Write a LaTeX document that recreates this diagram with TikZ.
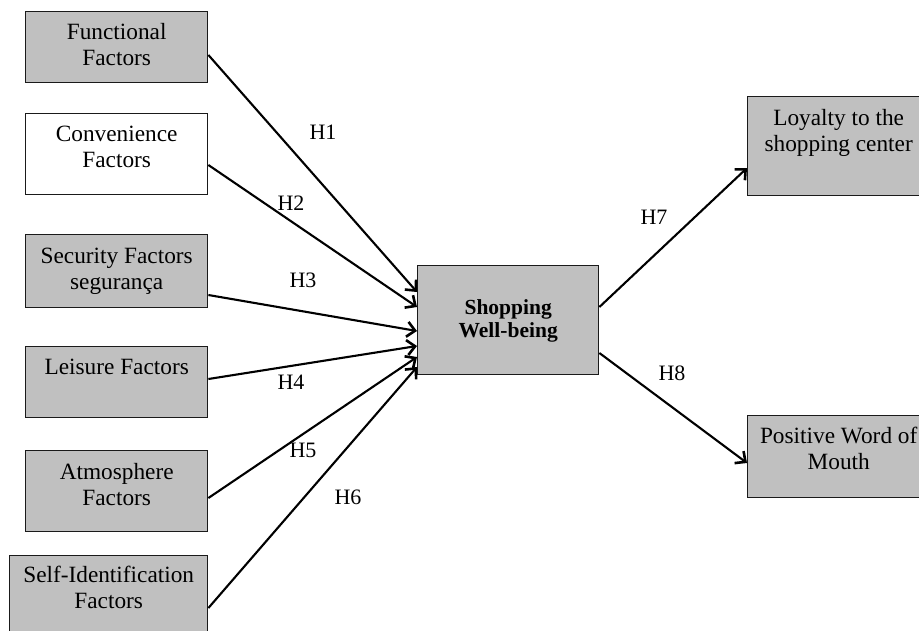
\documentclass[tikz,border=0pt]{standalone}
\usepackage{fontspec}
\setmainfont{Liberation Serif}
\usetikzlibrary{arrows.meta,calc}
\definecolor{boxgray}{HTML}{C0C0C0}
\definecolor{edgecol}{HTML}{1A1A1A}
\begin{document}
\begin{tikzpicture}[x=1pt,y=-1pt,
  box/.style={draw=edgecol,line width=1.4pt,fill=boxgray,anchor=north west,inner sep=0pt},
  whitebox/.style={box,fill=white},
  boxtext/.style={anchor=north,inner sep=0pt,align=center,font=\fontsize{23.3}{26}\selectfont},
  hyp/.style={font=\fontsize{22}{24}\selectfont,inner sep=0pt},
  arr/.style={draw=black,line width=2.1pt,-{Straight Barb[length=8pt,width=15pt,line width=2.6pt]}}]
\clip (0,0) rectangle (919,630);
\fill[white] (0,0) rectangle (919,630);

% left boxes
\node[box,minimum width=182pt,minimum height=71pt] (f) at (25,11) {};
\node[boxtext] (ft) at ($(f.north)+(0,10)$) {\strut Functional\\\strut Factors};
\node[whitebox,minimum width=182pt,minimum height=81pt] (c) at (25,113) {};
\node[boxtext] (ct) at ($(c.north)+(0,10)$) {\strut Convenience\\\strut Factors};
\node[box,minimum width=182pt,minimum height=73pt] (s) at (25,234) {};
\node[boxtext] (st) at ($(s.north)+(0,11)$) {\strut Security Factors\\\strut segurança};
\node[box,minimum width=182pt,minimum height=71pt] (l) at (25,346) {};
\node[boxtext] (lt) at ($(l.north)+(0,10)$) {\strut Leisure Factors};
\node[box,minimum width=182pt,minimum height=81pt] (a) at (25,450) {};
\node[boxtext] (at) at ($(a.north)+(0,11)$) {\strut Atmosphere\\\strut Factors};
\node[box,minimum width=198pt,minimum height=100pt] (si) at (9,555) {};
\node[boxtext] (sit) at ($(si.north)+(0,9)$) {\strut Self-Identification\\\strut Factors};

% centre box
\node[box,minimum width=181pt,minimum height=109pt] (swb) at (417,265) {};
\node[font=\bfseries\fontsize{21.5}{23}\selectfont,align=center,inner sep=0pt] (swbt) at ($(swb.center)+(0,1)$) {Shopping\\Well-being};

% right boxes
\node[box,minimum width=182pt,minimum height=99pt] (loy) at (747,96) {};
\node[boxtext] (loyt) at ($(loy.north)+(0,11)$) {\strut Loyalty to the\\\strut shopping center};
\node[box,minimum width=182pt,minimum height=82pt] (pw) at (747,415) {};
\node[boxtext] (pwt) at ($(pw.north)+(0,10)$) {\strut Positive Word of\\\strut Mouth};

% arrows in
\draw[arr] ($(f.north east)+(0,44)$) -- ($(swb.north west)+(0,27)$);
\draw[arr] ($(c.north east)+(0,52)$) -- ($(swb.north west)+(0,42)$);
\draw[arr] ($(s.north east)+(0,61)$) -- ($(swb.north west)+(0,66)$);
\draw[arr] ($(l.north east)+(0,33)$) -- ($(swb.north west)+(0,81)$);
\draw[arr] ($(a.north east)+(0,48)$) -- ($(swb.north west)+(0,92)$);
\draw[arr] ($(si.north east)+(0,53)$) -- ($(swb.north west)+(0,102)$);
% arrows out
\draw[arr] ($(swb.north east)+(0,42)$) -- ($(loy.north west)+(0,72)$);
\draw[arr] ($(swb.north east)+(0,88)$) -- ($(pw.north west)+(0,48)$);

% labels
\node[hyp] (h1) at (323,132) {H1};
\node[hyp] (h2) at (291,203) {H2};
\node[hyp] (h3) at (303,280) {H3};
\node[hyp] (h4) at (291,382) {H4};
\node[hyp] (h5) at (303,450) {H5};
\node[hyp] (h6) at (348,497) {H6};
\node[hyp] (h7) at (654,217) {H7};
\node[hyp] (h8) at (672,373) {H8};
\end{tikzpicture}
\end{document}
